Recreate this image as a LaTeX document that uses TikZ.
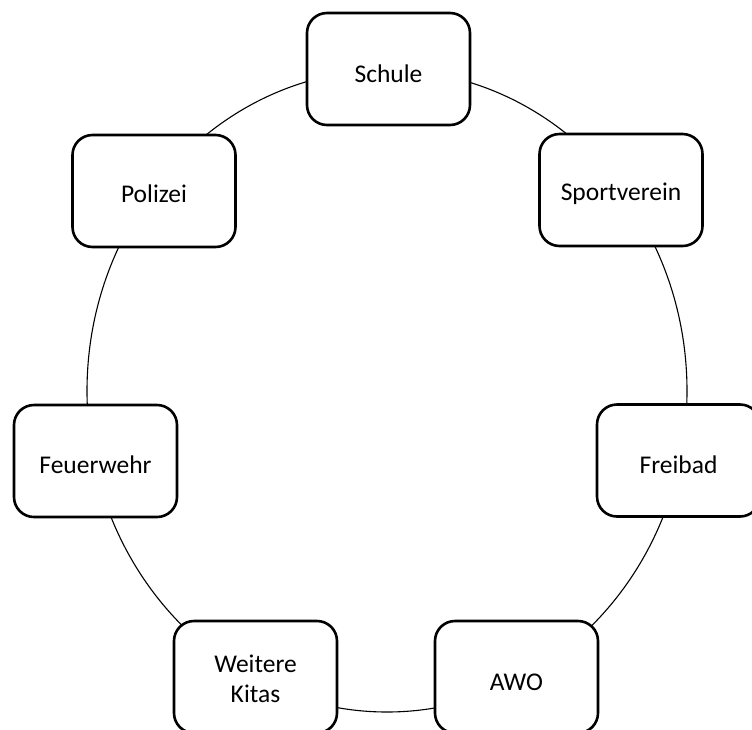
\documentclass[tikz,border=0pt]{standalone}
\usepackage{fontspec}
\setmainfont{Carlito}
\newcommand{\dropby}[2]{\raisebox{-#1}[\height][\depth]{#2}}
\begin{document}
\begin{tikzpicture}[x=1pt,y=-1pt,
  box/.style={draw=black, fill=white, rectangle, rounded corners=20pt,
    line width=2.6pt, minimum width=163pt, minimum height=112pt,
    inner sep=0pt, align=center,
    font=\fontsize{25.5pt}{30pt}\selectfont},
  ring/.style={draw=black, line width=1.1pt}]
\useasboundingbox (0,0) rectangle (752,729);
\clip (0,0) rectangle (752,729);
\fill[white] (0,0) rectangle (752,729);
\coordinate (ctr) at (387,391);
\draw[ring] (ctr) ellipse [x radius=300pt, y radius=321pt];
\node[box] (schule) at (388.5,69) {\dropby{5pt}{Schule}};
\node[box] (sport) at (621,190) {\dropby{4pt}{Sportverein}};
\node[box] (polizei) at (154,191) {\dropby{3pt}{Polizei}};
\node[box] (feuer) at (95.5,461) {\dropby{4pt}{Feuerwehr}};
\node[box] (frei) at (678.5,460.5) {\dropby{4pt}{Freibad}};
\node[box] (kitas) at (255.5,677) {\dropby{4pt}{\begin{tabular}{@{}c@{}}Weitere\\Kitas\end{tabular}}};
\node[box] (awo) at (516.5,677) {\dropby{5pt}{AWO}};
\end{tikzpicture}
\end{document}
